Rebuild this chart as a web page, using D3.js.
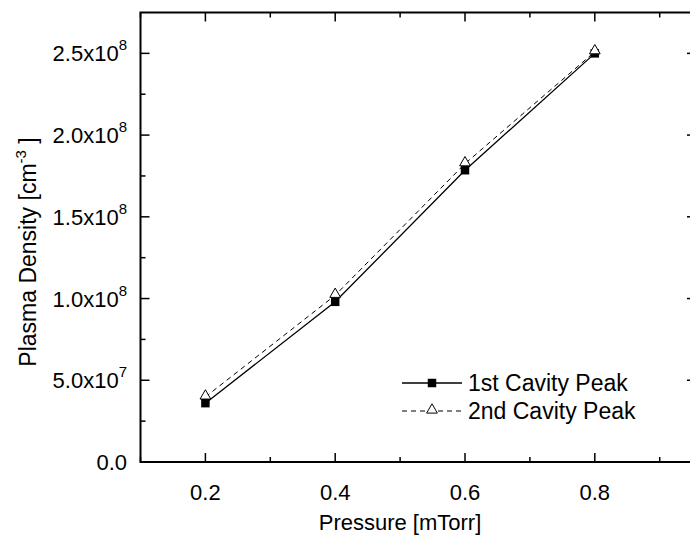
<!DOCTYPE html>
<html>
<head>
<meta charset="utf-8">
<script src="https://cdn.jsdelivr.net/npm/d3@7"></script>
<style>
  body { margin: 0; background: #fff; }
  text { font-family: "Liberation Sans", Arial, sans-serif; fill: #000; }
</style>
</head>
<body>
<div id="chart"></div>
<script>
// data
var pressure = [0.2, 0.4, 0.6, 0.8];
var firstPeak = [3.6e7, 0.98e8, 1.785e8, 2.5e8];
var secondPeak = [3.98e7, 1.02e8, 1.825e8, 2.51e8];
var seriesNames = ["1st Cavity Peak", "2nd Cavity Peak"];

var xTicks = [0.2, 0.4, 0.6, 0.8];
var xMinor = [0.1, 0.3, 0.5, 0.7, 0.9];
var yTicks = [0, 5e7, 1e8, 1.5e8, 2e8, 2.5e8];
var yMinor = [2.5e7, 7.5e7, 1.25e8, 1.75e8, 2.25e8];
var yTickBase = ["0.0", "5.0x10", "1.0x10", "1.5x10", "2.0x10", "2.5x10"];
var yTickExp = ["", "7", "8", "8", "8", "8"];

var W = 690, H = 537;
var pLeft = 140.5, pRight = 696, pTop = 12.5, pBottom = 462;

var svg = d3.select("#chart")
  .append("svg")
    .attr("width", W)
    .attr("height", H);

var x = d3.scaleLinear()
    .domain([0.1, 0.1 + (pRight - pLeft) / 649])
    .range([pLeft, pRight]);

var y = d3.scaleLinear()
    .domain([0, 2.75e8])
    .range([pBottom, pTop]);

// frame
svg.append("rect")
    .attr("x", pLeft)
    .attr("y", pTop)
    .attr("width", pRight - pLeft)
    .attr("height", pBottom - pTop)
    .attr("fill", "none")
    .attr("stroke", "#000")
    .attr("stroke-width", 2);

// ticks, all pointing inward
function tickSet(vals, len, horizontal) {
  vals.forEach(function(v) {
    if (horizontal) {
      svg.append("line").attr("x1", x(v)).attr("x2", x(v))
        .attr("y1", pBottom).attr("y2", pBottom - len)
        .attr("stroke", "#000").attr("stroke-width", 1.5);
      svg.append("line").attr("x1", x(v)).attr("x2", x(v))
        .attr("y1", pTop).attr("y2", pTop + len)
        .attr("stroke", "#000").attr("stroke-width", 1.5);
    } else {
      svg.append("line").attr("x1", pLeft).attr("x2", pLeft + len)
        .attr("y1", y(v)).attr("y2", y(v))
        .attr("stroke", "#000").attr("stroke-width", 1.5);
      svg.append("line").attr("x1", pRight).attr("x2", pRight - len)
        .attr("y1", y(v)).attr("y2", y(v))
        .attr("stroke", "#000").attr("stroke-width", 1.5);
    }
  });
}
tickSet(xTicks, 9, true);
tickSet(xMinor, 5, true);
tickSet(yTicks, 9, false);
tickSet(yMinor, 5, false);

// x tick labels
svg.selectAll(".xlab")
  .data(xTicks)
  .enter()
  .append("text")
    .attr("x", function(d) { return x(d); })
    .attr("y", 500)
    .attr("text-anchor", "middle")
    .style("font-size", "22px")
    .text(function(d) { return d.toFixed(1); });

// y tick labels with superscript exponent
yTicks.forEach(function(v, i) {
  var t = svg.append("text")
      .attr("x", 127)
      .attr("y", y(v) + 8)
      .attr("text-anchor", "end")
      .style("font-size", "22px");
  t.append("tspan").text(yTickBase[i]);
  if (yTickExp[i]) {
    t.append("tspan")
      .attr("dy", -11)
      .style("font-size", "15px")
      .text(yTickExp[i]);
  }
});

// axis titles
svg.append("text")
    .attr("x", 400)
    .attr("y", 530)
    .attr("text-anchor", "middle")
    .style("font-size", "22px")
    .text("Pressure [mTorr]");

var yt = svg.append("text")
    .attr("transform", "translate(36,252) rotate(-90)")
    .attr("text-anchor", "middle")
    .style("font-size", "23px");
yt.append("tspan").text("Plasma Density [cm");
yt.append("tspan").attr("dy", -10).style("font-size", "15px").text("-3");
yt.append("tspan").attr("dy", 10).text(" ]");

// series
var pts1 = pressure.map(function(p, i) { return [p, firstPeak[i]]; });
var pts2 = pressure.map(function(p, i) { return [p, secondPeak[i]]; });

var line = d3.line()
    .x(function(d) { return x(d[0]); })
    .y(function(d) { return y(d[1]); });

svg.append("path")
    .datum(pts1)
    .attr("d", line)
    .attr("fill", "none")
    .attr("stroke", "#000")
    .attr("stroke-width", 1.3);

svg.append("path")
    .datum(pts2)
    .attr("d", line)
    .attr("fill", "none")
    .attr("stroke", "#000")
    .attr("stroke-width", 1)
    .attr("stroke-dasharray", "5,4");

var square = d3.symbol().type(d3.symbolSquare).size(72);
var triangle = d3.symbol().type(d3.symbolTriangle).size(50);

svg.selectAll(".sq")
  .data(pts1)
  .enter()
  .append("path")
    .attr("d", square)
    .attr("transform", function(d) { return "translate(" + x(d[0]) + "," + y(d[1]) + ")"; })
    .attr("fill", "#000");

svg.selectAll(".tri")
  .data(pts2)
  .enter()
  .append("path")
    .attr("d", triangle)
    .attr("transform", function(d) { return "translate(" + x(d[0]) + "," + (y(d[1]) - 1) + ")"; })
    .attr("fill", "#fff")
    .attr("stroke", "#000")
    .attr("stroke-width", 1);

// legend
var lx1 = 402, lx2 = 462, ly = [383, 411];
svg.append("line").attr("x1", lx1).attr("x2", lx2).attr("y1", ly[0]).attr("y2", ly[0])
    .attr("stroke", "#000").attr("stroke-width", 1.3);
svg.append("path").attr("d", square)
    .attr("transform", "translate(" + (lx1 + lx2) / 2 + "," + ly[0] + ")")
    .attr("fill", "#000");
svg.append("line").attr("x1", lx1).attr("x2", lx2).attr("y1", ly[1]).attr("y2", ly[1])
    .attr("stroke", "#000").attr("stroke-width", 1).attr("stroke-dasharray", "5,4");
svg.append("path").attr("d", triangle)
    .attr("transform", "translate(" + (lx1 + lx2) / 2 + "," + (ly[1] - 1) + ")")
    .attr("fill", "#fff").attr("stroke", "#000");

seriesNames.forEach(function(n, i) {
  svg.append("text")
      .attr("x", 468)
      .attr("y", ly[i] + 8)
      .style("font-size", "23px")
      .text(n);
});
</script>
</body>
</html>
